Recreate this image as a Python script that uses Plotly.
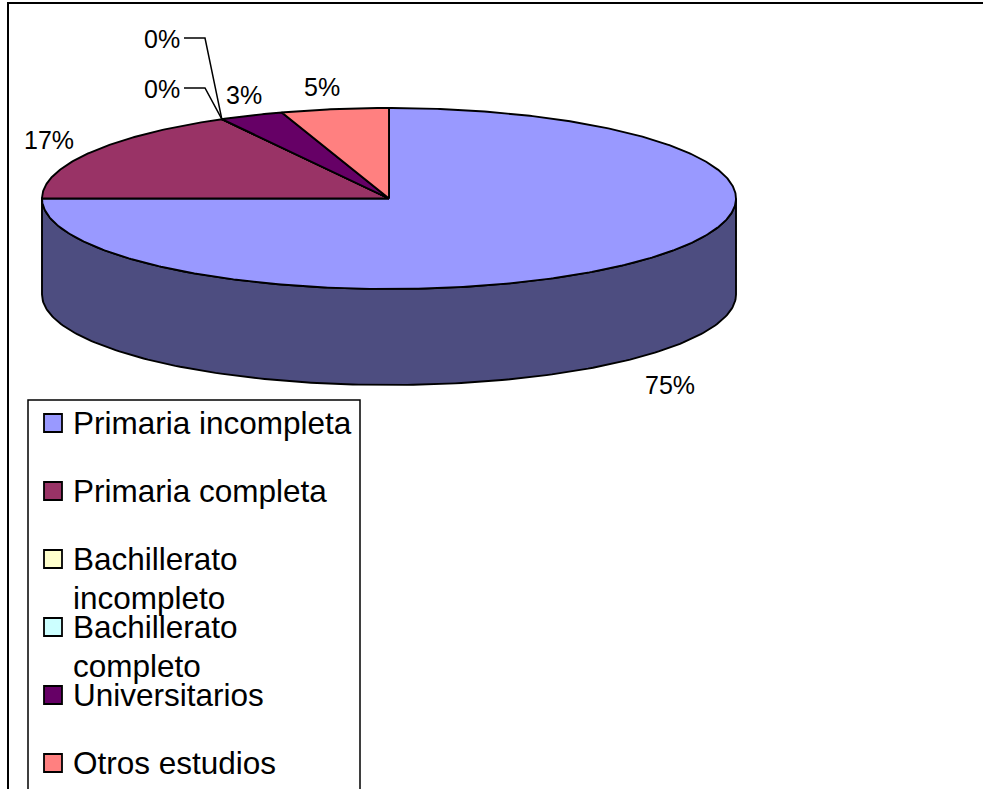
import numpy as np
import plotly.graph_objects as go

categories = ["Primaria incompleta", "Primaria completa", "Bachillerato incompleto",
              "Bachillerato completo", "Universitarios", "Otros estudios"]
values = [75, 17, 0, 0, 3, 5]
colors = ["#9999FF", "#993366", "#FFFFCC", "#CCFFFF", "#660066", "#FF8080"]
side_color = "#4D4D80"
value_labels = ["75%", "17%", "0%", "0%", "3%", "5%"]
label_x = [670, 49, 162, 162, 244, 322]
label_y = [385, 140, 89, 39, 95, 87]
legend_lines = [["Primaria incompleta"], ["Primaria completa"], ["Bachillerato", "incompleto"],
                ["Bachillerato", "completo"], ["Universitarios"], ["Otros estudios"]]

CX, CY, RX, RY, DEPTH = 389, 198.5, 347, 90.5, 96
FONT = "Liberation Sans, Arial, sans-serif"


def ell(t_deg):
    t = np.radians(t_deg)
    return CX + RX * np.sin(t), CY - RY * np.cos(t)


fig = go.Figure()

# side wall: front half of the rim
t = np.linspace(90, 270, 181)
xt, yt = ell(t)
fig.add_trace(go.Scatter(
    x=np.r_[xt, xt[::-1], xt[0]], y=np.r_[yt, yt[::-1] + DEPTH, yt[0]], fill="toself", fillcolor=side_color,
    mode="lines", line=dict(color="black", width=1.9), hoverinfo="skip"))

# top slices
total = sum(values)
start = 0.0
angles = []
for v, c, name in zip(values, colors, categories):
    end = start + 360.0 * v / total
    a = np.linspace(start, end, max(2, int(end - start) * 2 + 2))
    xa, ya = ell(a)
    fig.add_trace(go.Scatter(
        x=np.r_[CX, xa, CX], y=np.r_[CY, ya, CY], fill="toself", fillcolor=c, name=name,
        mode="lines", line=dict(color="black", width=1.9), hoverinfo="name"))
    angles.append((start + end) / 2)
    start = end

# leader lines for the two zero slices
for i, ly in ((2, 88), (3, 38)):
    ex, ey = ell(angles[i])
    fig.add_trace(go.Scatter(x=[184, 205, ex], y=[ly, ly, ey], mode="lines",
                             line=dict(color="black", width=1.5), hoverinfo="skip"))

# legend swatches
leg_y = [423 + 68 * i for i in range(len(categories))]
fig.add_trace(go.Scatter(
    x=[53] * len(categories), y=leg_y, mode="markers", hoverinfo="skip",
    marker=dict(symbol="square", size=18, color=colors, line=dict(color="black", width=1.8))))

ann = []
for txt, x, y in zip(value_labels, label_x, label_y):
    ann.append(dict(x=x, y=y, text=txt, showarrow=False, xanchor="center", yanchor="middle",
                    font=dict(family=FONT, size=25, color="black")))
for lines, y0 in zip(legend_lines, leg_y):
    for j, ln in enumerate(lines):
        ann.append(dict(x=73, y=y0 + 39 * j, text=ln, showarrow=False, xanchor="left", xshift=-2,
                        yanchor="middle", font=dict(family=FONT, size=31.5, color="black")))

shapes = [
    dict(type="rect", x0=8, y0=3, x1=1100, y1=1000, line=dict(color="black", width=2), layer="below"),
    dict(type="rect", x0=28, y0=400, x1=360, y1=1000, line=dict(color="black", width=1.5),
         fillcolor="white", layer="below"),
]

fig.update_layout(
    width=983, height=789, margin=dict(l=0, r=0, t=0, b=0), showlegend=False,
    paper_bgcolor="white", plot_bgcolor="white", shapes=shapes, annotations=ann,
    xaxis=dict(range=[0, 983], visible=False, fixedrange=True),
    yaxis=dict(range=[789, 0], visible=False, fixedrange=True),
)
fig.write_html("out.html", config={"displayModeBar": False},
               post_script="document.body.style.margin='0';document.body.style.overflow='hidden';")
